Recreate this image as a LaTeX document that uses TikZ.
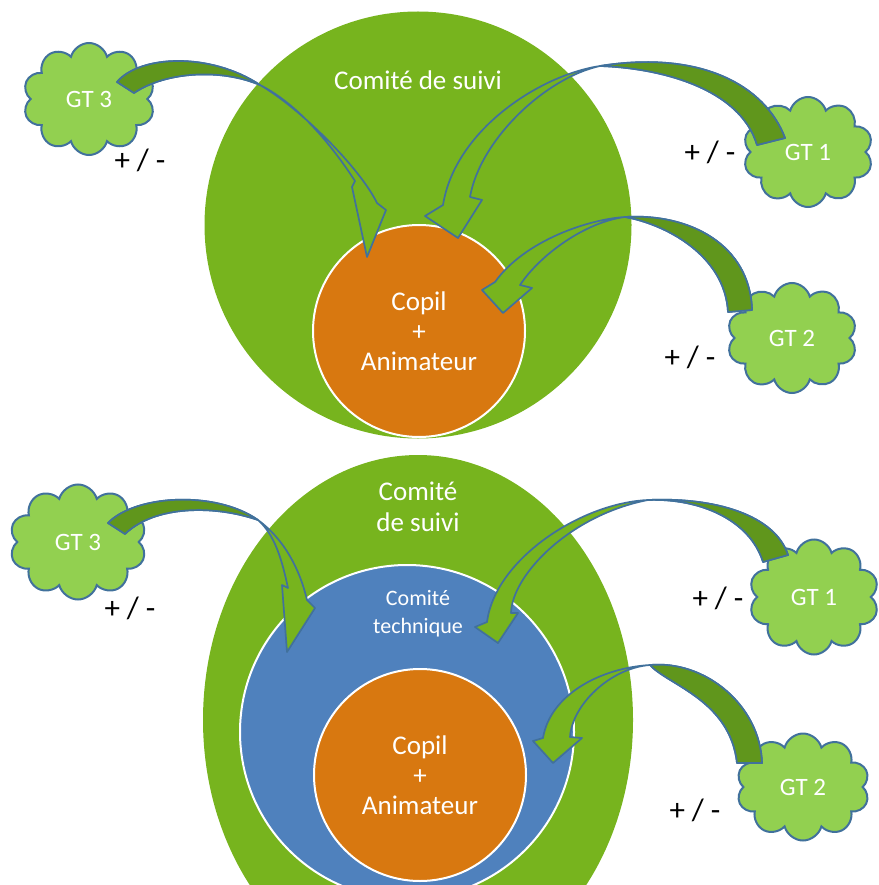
\documentclass[tikz,border=0pt]{standalone}
\usepackage{fontspec}
\setmainfont{Carlito}
\usepackage{tikz}
\usetikzlibrary{shapes.symbols,shapes.geometric}
\definecolor{suivigreen}{RGB}{119,180,30}
\definecolor{copilorange}{RGB}{216,120,16}
\definecolor{techblue}{RGB}{79,129,189}
\definecolor{gtgreen}{RGB}{146,208,80}
\definecolor{edgeblue}{RGB}{65,113,156}
\definecolor{backgreen}{RGB}{96,150,28}
\tikzstyle{suivi} = [ellipse, fill=suivigreen, inner sep=0pt]
\tikzstyle{technique} = [circle, fill=techblue, draw=white, line width=2pt, inner sep=0pt]
\tikzstyle{copil} = [circle, fill=copilorange, draw=white, line width=2pt, inner sep=0pt, minimum size=212pt, text=white, align=center, font=\fontsize{27}{30}\selectfont]
\tikzstyle{gt} = [cloud, cloud puffs=10, aspect=1.2, fill=gtgreen, draw=edgeblue, line width=2pt, text=white, font=\fontsize{25}{30}\selectfont, minimum width=130pt, minimum height=110pt]
\tikzstyle{title} = [text=white, align=center, font=\fontsize{27}{31}\selectfont]
\tikzstyle{sign} = [font=\fontsize{31}{32}\selectfont]
\tikzstyle{ribbon} = [fill=suivigreen, draw=edgeblue, line width=1.7pt, line join=round]
\tikzstyle{ribbonback} = [fill=backgreen, draw=edgeblue, line width=1.7pt, line join=round]

\begin{document}
\begin{tikzpicture}[x=1pt, y=-1pt]
			\useasboundingbox (0,0) rectangle (878,885);
			\clip (0,0) rectangle (878,885);
			%----------------------------------------------- haut
			\node (suivia) [suivi, minimum width=427pt, minimum height=427pt] at (418,225) {};
			\node (copila) [copil] at (419,331) {Copil\\+\\Animateur};
			\node (suivitxta) [title] at (418,80) {Comité de suivi};
			\node (gtthreea) [gt, minimum width=132pt, minimum height=112pt] at (89,99) {GT 3};
			\node (gtonea) [gt] at (808,152) {GT 1};
			\node (gttwoa) [gt] at (792,338) {GT 2};
			\node (signthreea) [sign] at (140,160) {+ / -};
			\node (signonea) [sign] at (710,152) {+ / -};
			\node (signtwoa) [sign] at (690,357) {+ / -};
			% GT 3
			\filldraw [ribbon] (117,82) .. controls (140,55) and (210,52) .. (260,85) .. controls (300,108) and (360,168) .. (377,203) -- (386,210) -- (367,257) -- (352,187) -- (355,181) .. controls (335,150) and (300,105) .. (260,85) .. controls (220,68) and (165,72) .. (134,93) -- cycle;
			\filldraw [ribbonback] (117,82) .. controls (140,55) and (210,52) .. (260,85) .. controls (220,68) and (165,72) .. (134,93) -- cycle;
			% GT 1
			\filldraw [ribbon] (785,138) .. controls (765,85) and (700,50) .. (600,66) .. controls (540,75) and (455,130) .. (443,205) -- (425,216) -- (458,238) -- (482,200) -- (470,197) .. controls (480,140) and (545,78) .. (600,66) .. controls (660,68) and (740,88) .. (757,145) -- cycle;
			\filldraw [ribbonback] (785,138) .. controls (765,85) and (700,50) .. (600,66) .. controls (660,68) and (740,88) .. (757,145) -- cycle;
			% GT 2
			\filldraw [ribbon] (752,310) .. controls (750,245) and (690,213) .. (625,217) .. controls (590,219) and (525,240) .. (495,282) -- (482,290) -- (503,313) -- (532,288) -- (520,285) .. controls (540,255) and (585,222) .. (625,217) .. controls (665,224) and (725,255) .. (728,312) -- cycle;
			\filldraw [ribbonback] (752,310) .. controls (750,245) and (690,213) .. (625,217) .. controls (665,224) and (725,255) .. (728,312) -- cycle;
			%----------------------------------------------- bas
			\node (suivib) [suivi, minimum width=430pt, minimum height=530pt] at (418,720) {};
			\node (techb) [technique, minimum size=334pt] at (407,732) {};
			\node (copilb) [copil] at (420,775) {Copil\\+\\Animateur};
			\node (suivitxtb) [title] at (418,507) {Comité\\de suivi};
			\node (techtxtb) [title, font=\fontsize{22}{28}\selectfont] at (418,614) {Comité\\technique};
			\node (gtthreeb) [gt, minimum width=137pt, minimum height=115pt] at (78,542) {GT 3};
			\node (gtoneb) [gt, minimum height=115pt] at (814,597) {GT 1};
			\node (gttwob) [gt, minimum width=133pt, minimum height=107pt] at (803,787) {GT 2};
			\node (signthreeb) [sign] at (130,608) {+ / -};
			\node (signoneb) [sign] at (718,598) {+ / -};
			\node (signtwob) [sign] at (695,810) {+ / -};
			% GT 3
			\filldraw [ribbon] (108,523) .. controls (135,495) and (215,490) .. (258,520) .. controls (285,540) and (300,570) .. (307,600) -- (315,608) -- (287,652) -- (282,585) -- (288,588) .. controls (282,560) and (275,535) .. (258,520) .. controls (215,505) and (155,505) .. (125,534) -- cycle;
			\filldraw [ribbonback] (108,523) .. controls (135,495) and (215,490) .. (258,520) .. controls (215,505) and (155,505) .. (125,534) -- cycle;
			% GT 1
			\filldraw [ribbon] (788,555) .. controls (775,515) and (715,497) .. (648,500) .. controls (580,503) and (495,560) .. (487,622) -- (475,627) -- (498,643) -- (518,613) -- (511,613) .. controls (512,575) and (570,515) .. (648,500) .. controls (700,498) and (750,520) .. (763,562) -- cycle;
			\filldraw [ribbonback] (788,555) .. controls (775,515) and (715,497) .. (648,500) .. controls (700,498) and (750,520) .. (763,562) -- cycle;
			% GT 2
			\filldraw [ribbon] (762,763) .. controls (760,705) and (705,660) .. (650,665) .. controls (600,668) and (550,695) .. (543,738) -- (533,741) -- (553,763) -- (582,738) -- (570,737) .. controls (572,705) and (610,668) .. (650,665) .. controls (668,685) and (730,700) .. (737,763) -- cycle;
			\filldraw [ribbonback] (762,763) .. controls (760,705) and (705,660) .. (650,665) .. controls (668,685) and (730,700) .. (737,763) -- cycle;
\end{tikzpicture}
\end{document}
